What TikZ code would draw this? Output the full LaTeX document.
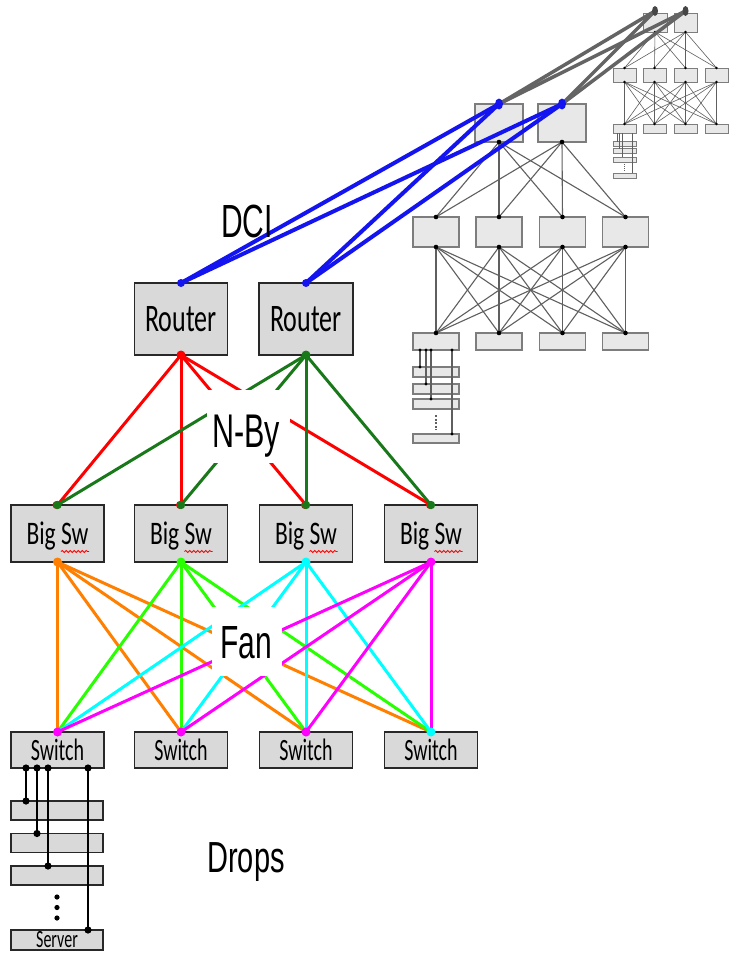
\documentclass[tikz,border=0pt]{standalone}
\usepackage{fontspec}
\usepackage{graphicx}
\newfontfamily\calib{Carlito}
\newfontfamily\arialf{Liberation Sans}
\usetikzlibrary{decorations.pathmorphing}
\definecolor{boxfill}{RGB}{217,217,217}
\definecolor{boxline}{RGB}{40,40,40}
\definecolor{nred}{RGB}{255,0,0}
\definecolor{ngreen}{RGB}{25,120,25}
\definecolor{forange}{RGB}{255,128,0}
\definecolor{flime}{RGB}{40,255,0}
\definecolor{fcyan}{RGB}{0,255,255}
\definecolor{fmag}{RGB}{255,0,255}
\definecolor{dciblue}{RGB}{20,20,240}
\definecolor{thickgray}{RGB}{100,100,100}
\definecolor{midline}{RGB}{95,95,95}
\definecolor{midfill}{RGB}{232,232,232}
\definecolor{midbord}{RGB}{125,125,125}
\newcommand{\stx}[3]{\scalebox{1}[#1]{\fontsize{#2pt}{#2pt}\selectfont #3}}
\begin{document}
\begin{tikzpicture}[x=1pt,y=-1pt,
  mainbox/.style={draw=boxline, line width=1.5pt, fill=boxfill, minimum width=93pt, minimum height=57pt, inner sep=0pt, outer sep=0pt},
  midbox/.style={draw=midbord, line width=1.1pt, fill=midfill, minimum width=46pt, minimum height=30pt, inner sep=0pt, outer sep=0pt},
  minibox/.style={draw=midbord, line width=0.7pt, fill=midfill, minimum width=23pt, minimum height=14pt, inner sep=0pt, outer sep=0pt},
  clearbox/.style={fill=white, draw=none, inner sep=0pt},
  nby/.style={line width=3pt},
  fanln/.style={line width=3pt},
  dciln/.style={line width=4pt, dciblue},
  grayln/.style={line width=3.5pt, thickgray},
  dropln/.style={line width=2.4pt, black},
  midln/.style={line width=1.1pt, midline},
  miniln/.style={line width=0.6pt, midline},
  squig/.style={draw=red, line width=0.8pt, decorate, decoration={snake, segment length=4pt, amplitude=1.1pt}}
]
\fill[white] (0,0) rectangle (730,953);
\useasboundingbox (0,0) rectangle (730,953);

% ---------- mini-mini diagram (top right) ----------
\node[minibox, minimum width=24pt, minimum height=19pt] (mm1) at (655,22.5) {};
\node[minibox, minimum width=23pt, minimum height=19pt] (mm2) at (685.5,22.5) {};
\node[minibox] (o1) at (624.5,75) {};
\node[minibox] (o2) at (654.5,75) {};
\node[minibox] (o3) at (685.5,75) {};
\node[minibox] (o4) at (716.5,75) {};
\node[minibox, minimum height=9pt] (t1) at (624.5,128.5) {};
\node[minibox, minimum height=9pt] (t2) at (654.5,128.5) {};
\node[minibox, minimum height=9pt] (t3) at (685.5,128.5) {};
\node[minibox, minimum height=9pt] (t4) at (716.5,128.5) {};
\node[minibox, minimum height=5pt] (u1) at (624.5,144) {};
\node[minibox, minimum height=5pt] (u2) at (624.5,151) {};
\node[minibox, minimum height=5pt] (u3) at (624.5,159.5) {};
\node[minibox, minimum height=5pt] (u4) at (624.5,175.5) {};
\foreach \a in {mm1,mm2} \foreach \b in {o1,o2,o3,o4} {\draw[miniln] (\a.south) -- (\b.north);}
\foreach \a in {o1,o2,o3,o4} \foreach \b in {t1,t2,t3,t4} {\draw[miniln] (\a.south) -- (\b.north);}
\foreach \a in {mm1,mm2} {\fill[black] (\a.south) circle (1.3pt);}
\foreach \a in {o1,o2,o3,o4} {\fill[black] (\a.north) circle (1.3pt); \fill[black] (\a.south) circle (1.3pt);}
\foreach \a in {t1,t2,t3,t4} {\fill[black] (\a.north) circle (1.3pt);}
\draw[miniln] ([xshift=4pt]t1.south west) -- ([xshift=4pt]u1.north west);
\draw[miniln] ([xshift=6pt]t1.south west) -- ([xshift=6pt]u2.north west);
\draw[miniln] ([xshift=9pt]t1.south west) -- ([xshift=9pt]u3.north west);
\draw[miniln] ([xshift=19pt]t1.south west) -- ([xshift=19pt]u4.north west);
\draw[miniln, dash pattern=on 1pt off 1pt] (624,164) -- (624,171);

% ---------- medium diagram ----------
\node[midbox, minimum width=48pt, minimum height=38pt] (m1) at (499,123) {};
\node[midbox, minimum width=48pt, minimum height=38pt] (m2) at (562,123) {};
\node[midbox] (n1) at (436,232) {};
\node[midbox] (n2) at (499,232) {};
\node[midbox] (n3) at (562.5,232) {};
\node[midbox] (n4) at (625.5,232) {};
\node[midbox, minimum height=17pt] (p1) at (436,341.5) {};
\node[midbox, minimum height=17pt] (p2) at (499,341.5) {};
\node[midbox, minimum height=17pt] (p3) at (562.5,341.5) {};
\node[midbox, minimum height=17pt] (p4) at (625.5,341.5) {};
\node[midbox, minimum height=10pt] (q1) at (436,372) {};
\node[midbox, minimum height=10pt] (q2) at (436,389) {};
\node[midbox, minimum height=10pt] (q3) at (436,404) {};
\node[midbox, minimum height=9pt] (q4) at (436,438.5) {};
\foreach \a in {m1,m2} \foreach \b in {n1,n2,n3,n4} {\draw[midln] (\a.south) -- (\b.north);}
\foreach \a in {n1,n2,n3,n4} \foreach \b in {p1,p2,p3,p4} {\draw[midln] (\a.south) -- (\b.north);}
\foreach \a in {m1,m2} {\fill[black] (\a.south) circle (2.3pt);}
\foreach \a in {n1,n2,n3,n4} {\fill[black] (\a.north) circle (2.3pt); \fill[black] (\a.south) circle (2.3pt);}
\foreach \a in {p1,p2,p3,p4} {\fill[black] (\a.north) circle (2.3pt);}
\draw[midln] ([xshift=7pt]p1.south west) -- ([xshift=7pt]q1.north west);
\draw[midln] ([xshift=13pt]p1.south west) -- ([xshift=13pt]q2.north west);
\draw[midln] ([xshift=18pt]p1.south west) -- ([xshift=18pt]q3.north west);
\draw[midln] ([xshift=39pt]p1.south west) -- ([xshift=39pt]q4.north west);
\foreach \s/\q in {7/q1,13/q2,18/q3,39/q4} {
  \fill[black] ([xshift=\s pt]p1.south west) circle (1.6pt);
  \fill[black] ([xshift=\s pt]\q.north west) circle (1.6pt);
}
\draw[midln, dash pattern=on 2pt off 1.5pt] (436,415) -- (436,430);

% ---------- main boxes ----------
\node[mainbox, minimum height=72pt] (r1) at (181,319) {\calib\stx{1.5}{26}{Router}};
\node[mainbox, minimum width=94pt, minimum height=72pt] (r2) at (306,319) {\calib\stx{1.5}{26}{Router}};
\foreach \i/\x in {1/57.5,2/181,3/306,4/431} {
  \node[mainbox, text depth=0pt] (b\i) at (\x,533.5) {\calib\stx{1.4}{23.5}{Big Sw}};
  \draw[squig] ([shift={(3.5,18)}]b\i.center) -- ([shift={(31.5,18)}]b\i.center);
  \node[mainbox, minimum height=36pt] (sw\i) at (\x,750) {\calib\stx{1.55}{20}{Switch}};
}
\node[mainbox, minimum width=92pt, minimum height=19pt] (sa) at (57,810.5) {};
\node[mainbox, minimum width=92pt, minimum height=19pt] (sb) at (57,843) {};
\node[mainbox, minimum width=92pt, minimum height=19pt] (sc) at (57,875.5) {};
\node[mainbox, minimum width=92pt, minimum height=20pt] (sn) at (57,940) {\calib\stx{1.55}{16}{Server}};

% ---------- DCI ----------
\coordinate (g1) at ([yshift=2pt]mm1.north);
\coordinate (g2) at ([yshift=2pt]mm2.north);
\foreach \a in {m1,m2} \foreach \b in {g1,g2} {\draw[grayln] (\a.north) -- (\b);}
\fill[thickgray!70!black] (g1) ellipse (3pt and 5pt);
\fill[thickgray!70!black] (g2) ellipse (3pt and 5pt);
\foreach \a in {r1,r2} \foreach \b in {m1,m2} {\draw[dciln] (\a.north) -- (\b.north);}
\fill[dciblue] (r1.north) circle (4pt);
\fill[dciblue] (r2.north) circle (4pt);
\fill[dciblue] (m1.north) ellipse (4pt and 5.5pt);
\fill[dciblue] (m2.north) ellipse (4pt and 5.5pt);
\node[anchor=base] (dci) at (247,237) {\arialf\stx{1.55}{30}{DCI}};

% ---------- N-By ----------
\foreach \b in {b1,b2,b3,b4} {\draw[nby, nred] (r1.south) -- (\b.north);}
\foreach \b in {b1,b2,b3,b4} {\draw[nby, ngreen] (r2.south) -- (\b.north);}
\node[clearbox, minimum width=83pt, minimum height=73pt] (nbyclr) at (248.5,426.5) {};
\node[anchor=base] (nbyt) at (246,447) {\arialf\stx{1.55}{30.5}{N-By}};
\fill[nred] (r1.south) circle (4.5pt);
\fill[ngreen] (r2.south) circle (4.5pt);
\foreach \b in {b1,b2,b3,b4} {\fill[nred] ([xshift=-1pt]\b.north) circle (4pt); \fill[ngreen] (\b.north) circle (4.2pt);}

% ---------- Fan ----------
\foreach \s in {sw1,sw2,sw3,sw4} {\draw[fanln, forange] (b1.south) -- (\s.north);}
\foreach \s in {sw1,sw2,sw3,sw4} {\draw[fanln, flime] (b2.south) -- (\s.north);}
\foreach \s in {sw1,sw2,sw3,sw4} {\draw[fanln, fcyan] (b3.south) -- (\s.north);}
\foreach \s in {sw1,sw2,sw3,sw4} {\draw[fanln, fmag] (b4.south) -- (\s.north);}
\node[clearbox, minimum width=70pt, minimum height=69pt] (fanclr) at (247,641.5) {};
\node[anchor=base] (fant) at (246,658) {\arialf\stx{1.55}{30}{Fan}};
\fill[forange] (b1.south) circle (4.5pt);
\fill[flime] (b2.south) circle (4.5pt);
\fill[fcyan] (b3.south) circle (4.5pt);
\fill[fmag] (b4.south) circle (4.5pt);
\fill[fmag] (sw1.north) circle (4.5pt);
\fill[fmag] (sw2.north) circle (4.5pt);
\fill[fmag] (sw3.north) circle (4.5pt);
\fill[fcyan] (sw4.north) circle (4.5pt);

% ---------- Drops ----------
\draw[dropln] ([xshift=15pt]sw1.south west) -- ([xshift=15pt]sa.north west);
\draw[dropln] ([xshift=26pt]sw1.south west) -- ([xshift=26pt]sb.north west);
\draw[dropln] ([xshift=37pt]sw1.south west) -- ([xshift=37pt]sc.north west);
\draw[dropln] ([xshift=77pt]sw1.south west) -- ([xshift=77pt]sn.north west);
\foreach \s/\q in {15/sa,26/sb,37/sc,77/sn} {
  \fill[black] ([xshift=\s pt]sw1.south west) circle (3.6pt);
  \fill[black] ([xshift=\s pt]\q.north west) circle (3.6pt);
}
\fill[black] (57,897) circle (2.6pt);
\fill[black] (57,907.5) circle (2.6pt);
\fill[black] (57,918) circle (2.6pt);
\node[anchor=base] (drops) at (246,872) {\arialf\stx{1.5}{29}{Drops}};
\end{tikzpicture}
\end{document}
